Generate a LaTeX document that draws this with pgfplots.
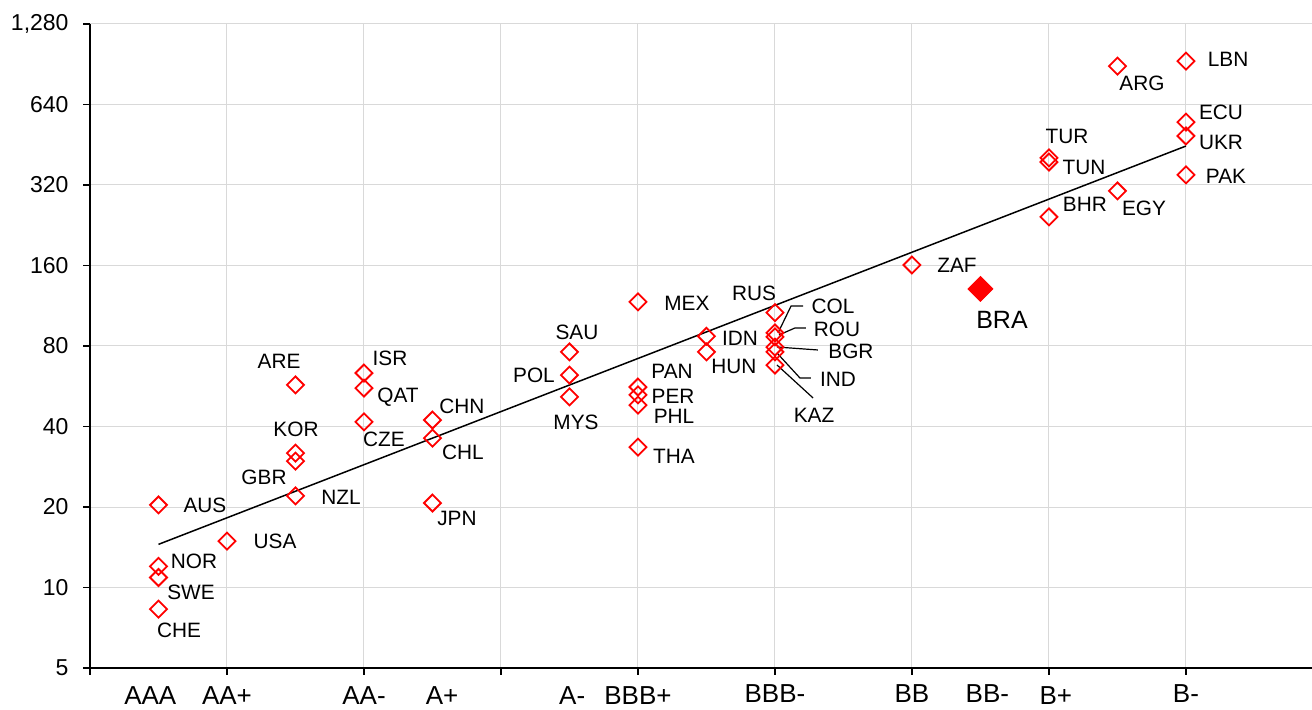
\documentclass[border=0pt]{standalone}
\usepackage{fontspec}
\setmainfont{Liberation Sans}
\usepackage{pgfplots}
\pgfplotsset{compat=1.18}
\definecolor{gridgray}{HTML}{D9D9D9}
\newcommand{\labfont}{\fontsize{10.4}{12}\selectfont}
\newcommand{\lab}[3]{\node[font=\labfont, inner sep=0pt] at (rel axis cs:#1,#2) {#3};}
\newcommand{\xl}[3]{\node[font=\fontsize{13}{15}\selectfont, anchor=base, inner sep=0pt, yshift=-#2pt] at (axis cs:#1,5) {#3};}
\begin{document}
\begin{tikzpicture}
\begin{axis}[
 scale only axis, width=611pt, height=322pt,
 xmin=-1, xmax=16.84,
 ymode=log, log basis y=2, ymin=5, ymax=1280,
 axis lines*=left,
 axis line style={line width=1pt, black},
 xtick={-1,1,3,5,7,9,11,13,15}, xticklabels={},
 ytick={5,10,20,40,80,160,320,640,1280},
 yticklabels={5,10,20,40,80,160,320,640,{1,280}},
 yticklabel style={font=\fontsize{11.5}{13}\selectfont, xshift=-3.7pt},
 tick align=outside, major tick length=3.5pt,
 tick style={black, line width=0.8pt},
 grid=major, major grid style={gridgray, line width=0.5pt},
 clip=false,
]
\addplot[black, line width=0.75pt, no marks] coordinates {(0,14.5) (15,447.6)};
\addplot[only marks, mark=square, mark size=3.0pt, mark options={rotate=45, draw=red, line width=0.9pt, fill=none}] table {
x y
0 20.35
0 12.0
0 10.9
0 8.3
1 14.9
2 57.2
2 31.8
2 29.7
2 22.0
3 63.4
3 55.7
3 41.6
4 42.3
4 36.2
4 20.7
6 76.0
6 62.3
6 51.6
7 116.9
7 56.2
7 52.5
7 48.1
7 33.5
8 87.0
8 76.0
9 106.6
9 89.5
9 86.5
9 79.3
9 76.0
9 67.9
11 160.7
13 404
13 390
13 243
14 891
14 304
15 930
15 550
15 488
15 349
};
\addplot[only marks, mark=square*, mark size=4.4pt, mark options={rotate=45, draw=red, fill=red}] coordinates {(12,130.7)};
% country labels
\lab{0.0941}{0.2531}{AUS}
\lab{0.0851}{0.1661}{NOR}
\lab{0.0827}{0.1180}{SWE}
\lab{0.0728}{0.0590}{CHE}
\lab{0.1514}{0.1972}{USA}
\lab{0.1424}{0.2966}{GBR}
\lab{0.1686}{0.3711}{KOR}
\lab{0.1547}{0.4767}{ARE}
\lab{0.2054}{0.2655}{NZL}
\lab{0.2455}{0.4814}{ISR}
\lab{0.2520}{0.4208}{QAT}
\lab{0.2406}{0.3556}{CZE}
\lab{0.3044}{0.4068}{CHN}
\lab{0.3052}{0.3354}{CHL}
\lab{0.3003}{0.2329}{JPN}
\lab{0.3985}{0.5217}{SAU}
\lab{0.3633}{0.4550}{POL}
\lab{0.3977}{0.3820}{MYS}
\lab{0.4885}{0.5668}{MEX}
\lab{0.4763}{0.4612}{PAN}
\lab{0.4771}{0.4224}{PER}
\lab{0.4779}{0.3913}{PHL}
\lab{0.4779}{0.3292}{THA}
\lab{0.5319}{0.5124}{IDN}
\lab{0.5270}{0.4689}{HUN}
\lab{0.5434}{0.5823}{RUS}
\lab{0.6080}{0.5621}{COL}
\lab{0.6113}{0.5264}{ROU}
\lab{0.6227}{0.4922}{BGR}
\lab{0.6121}{0.4488}{IND}
\lab{0.5925}{0.3929}{KAZ}
\lab{0.7095}{0.6258}{ZAF}
\node[font=\fontsize{12.5}{14}\selectfont, inner sep=0pt] at (rel axis cs:0.7463,0.5404) {BRA};
\lab{0.8609}{0.9084}{ARG}
\lab{0.9313}{0.9457}{LBN}
\lab{0.9255}{0.8634}{ECU}
\lab{0.9255}{0.8168}{UKR}
\lab{0.9296}{0.7640}{PAK}
\lab{0.7995}{0.8261}{TUR}
\lab{0.8134}{0.7780}{TUN}
\lab{0.8142}{0.7205}{BHR}
\lab{0.8625}{0.7143}{EGY}
% leader lines
\draw[black, line width=0.6pt] (rel axis cs:0.5835,0.5621) -- (rel axis cs:0.5737,0.5621) -- (rel axis cs:0.5630,0.5202);
\draw[black, line width=0.6pt] (rel axis cs:0.5859,0.5280) -- (rel axis cs:0.5769,0.5280) -- (rel axis cs:0.5638,0.5171);
\draw[black, line width=0.6pt] (rel axis cs:0.5957,0.4938) -- (rel axis cs:0.5622,0.4984);
\draw[black, line width=0.6pt] (rel axis cs:0.5900,0.4503) -- (rel axis cs:0.5810,0.4503) -- (rel axis cs:0.5622,0.4891);
\draw[black, line width=0.6pt] (rel axis cs:0.5917,0.4193) -- (rel axis cs:0.5622,0.4705);
% category labels
\xl{-0.12}{18.2}{AAA}
\xl{1}{18.2}{AA+}
\xl{3}{18}{AA-}
\xl{4.14}{18.2}{A+}
\xl{6.04}{18}{A-}
\xl{7}{18.2}{BBB+}
\xl{9}{17}{BBB-}
\xl{11}{17}{BB}
\xl{12.1}{17}{BB-}
\xl{13.1}{18}{B+}
\xl{15}{17}{B-}
\end{axis}
\pgfresetboundingbox
\path ([xshift=-45pt,yshift=-20.5pt]current axis.south west) rectangle ([yshift=12pt]current axis.north east);
\end{tikzpicture}
\end{document}
